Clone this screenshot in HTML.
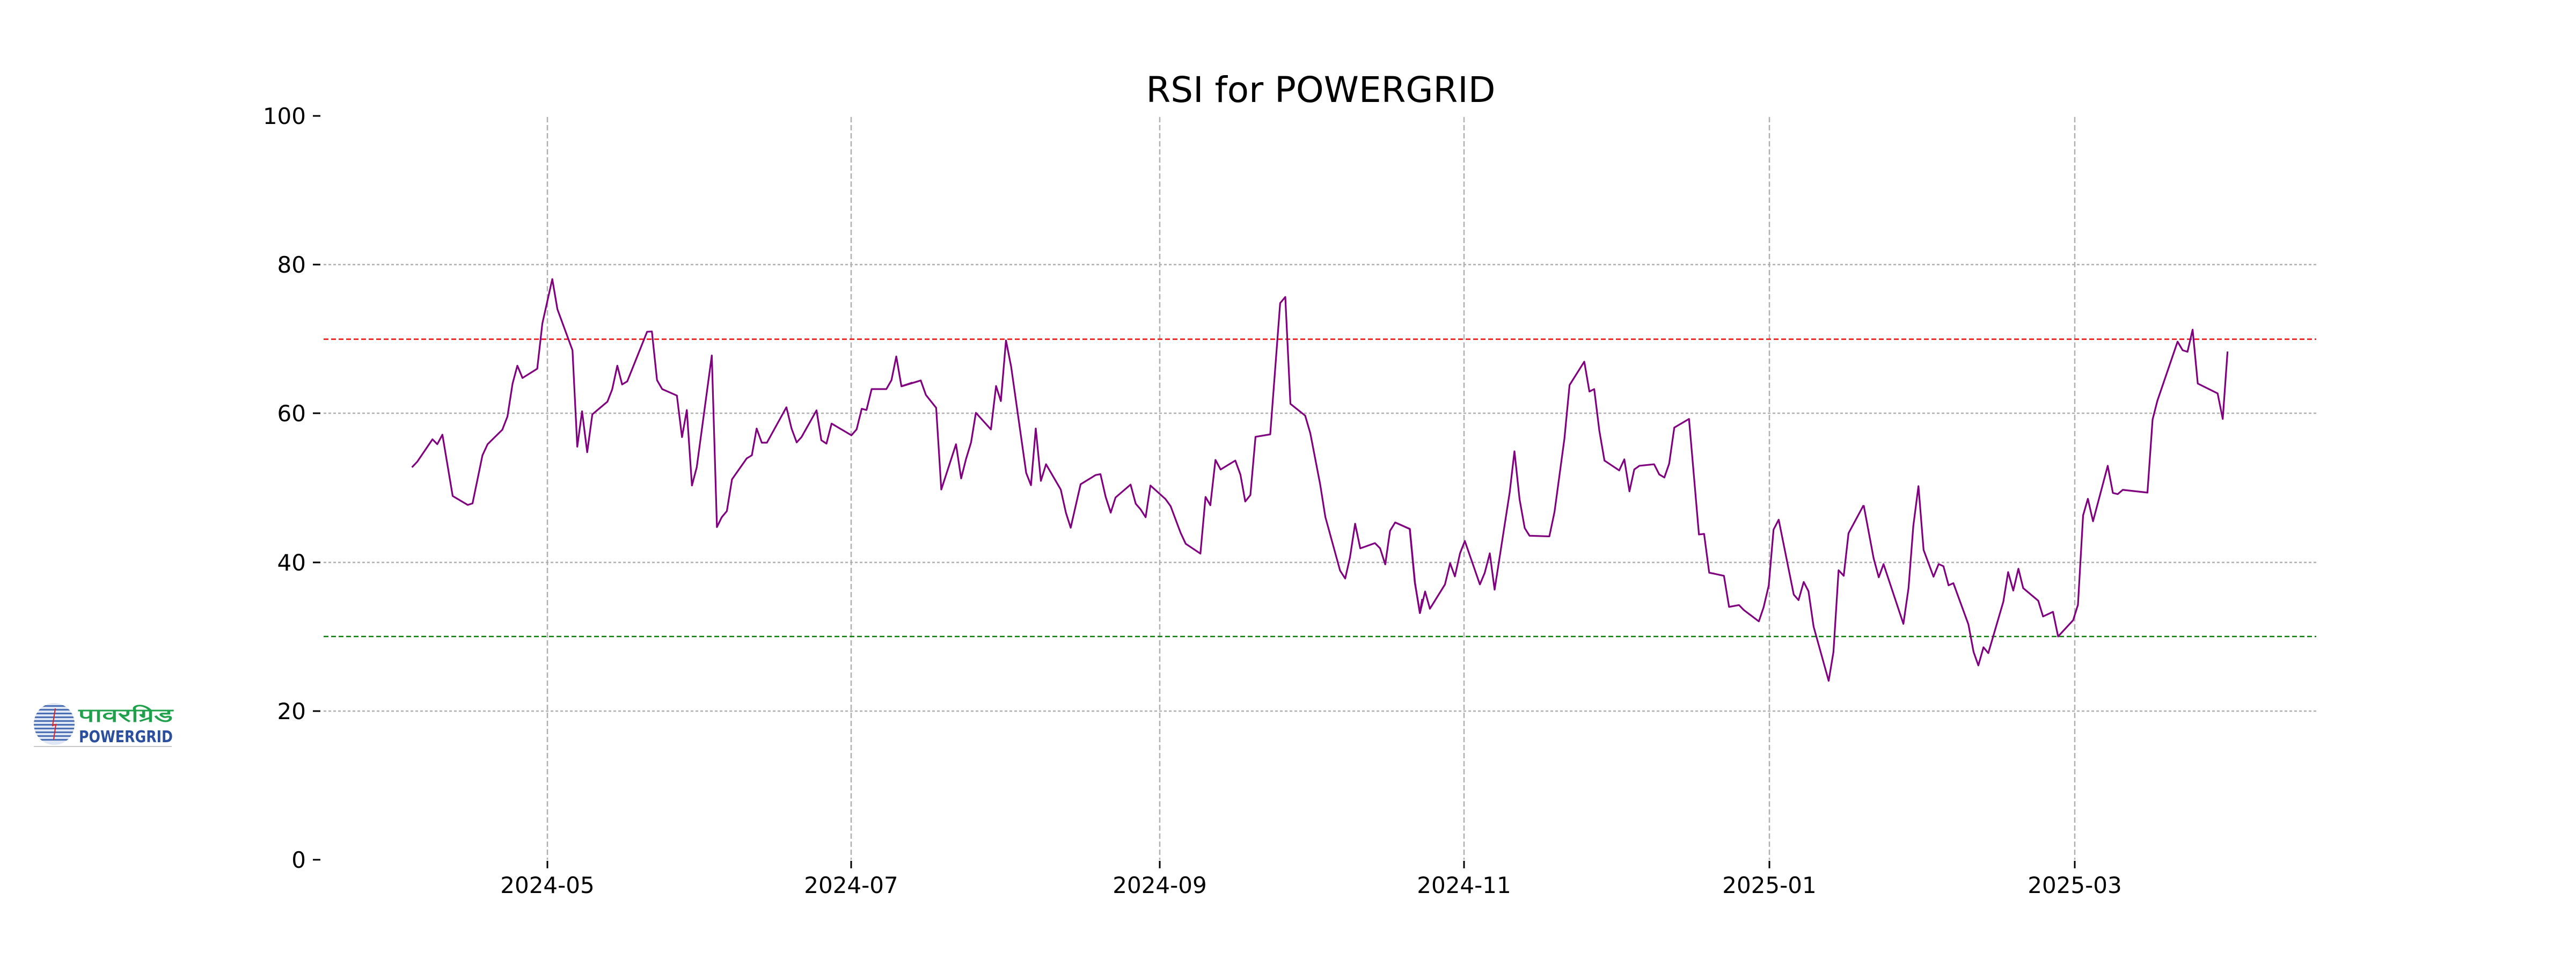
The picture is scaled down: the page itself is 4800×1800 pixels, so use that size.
<!DOCTYPE html>
<html><head><meta charset="utf-8"><style>
html,body{margin:0;padding:0;background:#fff;}
svg{display:block;}
text{font-family:"DejaVu Sans","Liberation Sans",sans-serif;}
</style></head><body>
<svg width="4800" height="1800" viewBox="0 0 4800 1800" xmlns="http://www.w3.org/2000/svg">
<rect width="4800" height="1800" fill="#fff"/>
<!-- horizontal grid -->
<g stroke="#b0b0b0" stroke-width="2.5" stroke-dasharray="5,4" fill="none">
<line x1="603" y1="493" x2="4316" y2="493"/>
<line x1="603" y1="770" x2="4316" y2="770"/>
<line x1="603" y1="1048" x2="4316" y2="1048"/>
<line x1="603" y1="1325" x2="4316" y2="1325"/>
</g>
<!-- vertical grid -->
<g stroke="#b0b0b0" stroke-width="2.5" stroke-dasharray="10,5" fill="none">
<line x1="1020" y1="218" x2="1602" y2="218" transform="rotate(90 1020 218) translate(0,0)" style="display:none"/>
<line x1="1020" y1="218" x2="1020" y2="1602"/>
<line x1="1586" y1="218" x2="1586" y2="1602"/>
<line x1="2161" y1="218" x2="2161" y2="1602"/>
<line x1="2728" y1="218" x2="2728" y2="1602"/>
<line x1="3297" y1="218" x2="3297" y2="1602"/>
<line x1="3866" y1="218" x2="3866" y2="1602"/>
</g>
<!-- thresholds -->
<line x1="603" y1="632" x2="4316" y2="632" stroke="#ff0000" stroke-width="2.5" stroke-dasharray="9,5"/>
<line x1="603" y1="1186" x2="4316" y2="1186" stroke="#008000" stroke-width="2.5" stroke-dasharray="9,5"/>
<!-- ticks -->
<g stroke="#000" stroke-width="3">
<line x1="583" y1="216" x2="597" y2="216"/>
<line x1="583" y1="493" x2="597" y2="493"/>
<line x1="583" y1="770" x2="597" y2="770"/>
<line x1="583" y1="1048" x2="597" y2="1048"/>
<line x1="583" y1="1325" x2="597" y2="1325"/>
<line x1="583" y1="1602" x2="597" y2="1602"/>
<line x1="1020" y1="1604" x2="1020" y2="1618"/>
<line x1="1586" y1="1604" x2="1586" y2="1618"/>
<line x1="2161" y1="1604" x2="2161" y2="1618"/>
<line x1="2728" y1="1604" x2="2728" y2="1618"/>
<line x1="3297" y1="1604" x2="3297" y2="1618"/>
<line x1="3866" y1="1604" x2="3866" y2="1618"/>
</g>
<g font-size="42" fill="#000" text-anchor="end">
<text x="570" y="231">100</text>
<text x="570" y="508">80</text>
<text x="570" y="785">60</text>
<text x="570" y="1063">40</text>
<text x="570" y="1340">20</text>
<text x="570" y="1617">0</text>
</g>
<g font-size="42" fill="#000" text-anchor="middle">
<text x="1020" y="1664">2024-05</text>
<text x="1586" y="1664">2024-07</text>
<text x="2161" y="1664">2024-09</text>
<text x="2728" y="1664">2024-11</text>
<text x="3297" y="1664">2025-01</text>
<text x="3866" y="1664">2025-03</text>
</g>
<text x="2461" y="190" font-size="66" text-anchor="middle" textLength="651" lengthAdjust="spacingAndGlyphs">RSI for POWERGRID</text>
<!-- series -->
<g fill="none" stroke="#800080" stroke-width="3.2" stroke-linejoin="round">
<g transform="translate(700,450) scale(0.6378,0.5741)">
<polyline vector-effect="non-scaling-stroke" points="106,733 122,714 166,642 180,658 195,627 225,826 269,855 283,850 312,694 327,658 370,611 385,568 400,461 414,403 429,443 472,413 487,266 516,122 531,220 575,353 589,666 603,551 618,684 633,561 677,520 691,480 706,403 720,464 735,454 793,293 807,292 822,450 837,479 880,500 895,635 909,547 924,792 938,733 982,370 997,927 1011,895 1026,875 1041,772 1084,704 1099,694 1113,607 1128,653 1143,653 1200,538 1215,607 1230,652 1244,635 1288,548 1302,645 1317,656 1332,591 1390,629 1405,610 1420,543 1434,547 1449,479 1492,479 1507,450 1521,373 1536,470 1568,458"/>
</g>
<g transform="translate(1650,450) scale(0.6378,0.5741)">
<polyline vector-effect="non-scaling-stroke" points="47,470 103,451 118,498 148,540 163,805 206,658 221,769 235,707 250,652 264,556 308,610 323,469 337,518 352,321 367,406 411,751 425,791 439,607 454,777 469,723 512,805 527,880 541,929 570,788 614,758 628,755 643,828 658,880 672,831 716,789 731,851 745,869 760,895 774,792 818,836 833,859 862,945 877,981 920,1013 935,829 949,856 964,709 979,740 1022,711 1037,757 1051,844 1066,823 1081,634 1124,626 1153,200 1168,180 1183,527 1226,565 1241,622 1270,789 1285,894 1328,1068 1343,1094 1357,1025 1372,916 1387,996 1430,979 1445,996 1460,1048 1474,939 1489,912 1532,933 1547,1108 1561,1206 1568,1160"/>
</g>
<g transform="translate(2600,450) scale(0.6378,0.5741)">
<polyline vector-effect="non-scaling-stroke" points="0,912 42,933 57,1108 72,1206 87,1136 101,1192 145,1113 160,1044 174,1087 189,1012 203,972 247,1113 261,1076 276,1012 290,1130 334,815 348,681 363,837 378,930 392,955 450,957 465,878 494,640 509,466 552,390 567,487 581,479 596,614 611,711 654,743 669,707 684,811 698,740 713,728 756,723 771,756 786,766 800,721 815,604 858,576 873,770 887,951 902,949 917,1075 931,1078 960,1085 975,1186 1004,1180 1018,1196 1062,1233 1076,1187 1091,1116 1105,935 1120,903 1164,1146 1178,1164 1193,1105 1207,1135 1222,1250 1266,1426 1280,1332 1295,1067 1310,1085 1324,947 1368,856"/>
</g>
<g transform="translate(3400,450) scale(0.6378,0.5741)">
<polyline vector-effect="non-scaling-stroke" points="114,856 143,1028 158,1090 172,1047 230,1241 245,1125 259,923 274,794 289,1001 318,1088 333,1047 347,1054 362,1116 376,1109 420,1243 435,1332 449,1376 464,1317 478,1336 522,1169 536,1073 551,1133 566,1062 580,1125 624,1166 638,1217 667,1202 682,1282 726,1229 740,1179 755,889 769,835 784,908 827,728 842,816 856,820 871,806 943,815 958,578 972,517 1031,325 1046,353 1060,358 1075,286 1090,461 1148,493 1163,576 1177,357"/>
</g>
</g>
<!-- logo -->
<defs><clipPath id="gc"><ellipse cx="101" cy="1349" rx="38" ry="39"/></clipPath></defs>
<g clip-path="url(#gc)">
<rect x="60" y="1308" width="82" height="82" fill="#dfe6f3"/>
<g fill="#4a6fb5">
<rect x="60" y="1314" width="82" height="3"/><rect x="60" y="1321" width="82" height="3"/>
<rect x="60" y="1328" width="82" height="3"/><rect x="60" y="1335" width="82" height="3"/>
<rect x="60" y="1342" width="82" height="3"/><rect x="60" y="1349" width="82" height="3"/>
<rect x="60" y="1356" width="82" height="3"/><rect x="60" y="1363" width="82" height="3"/>
<rect x="60" y="1370" width="82" height="3"/><rect x="60" y="1377" width="82" height="3"/>
</g>
</g>
<path d="M103,1320 L98,1352 L104,1350 L100,1378" stroke="#e02020" stroke-width="2" fill="none"/>
<text x="147" y="1345" font-size="34" font-weight="bold" fill="#1fa04a" textLength="175" lengthAdjust="spacingAndGlyphs" style='font-family:"Lohit Devanagari","Noto Sans Devanagari","DejaVu Sans",sans-serif'>पावरग्रिड</text>
<text x="147" y="1383" font-size="30" font-weight="bold" fill="#2a4f9e" textLength="175" lengthAdjust="spacingAndGlyphs">POWERGRID</text>
<line x1="63" y1="1391" x2="320" y2="1391" stroke="#c8c8c8" stroke-width="2"/>
</svg>
</body></html>
